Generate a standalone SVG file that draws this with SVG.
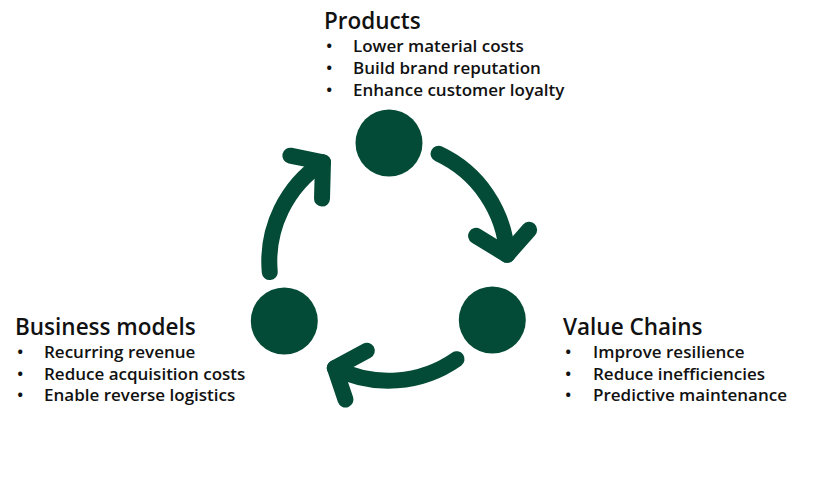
<svg xmlns="http://www.w3.org/2000/svg" xmlns:xlink="http://www.w3.org/1999/xlink" width="821" height="490" viewBox="0 0 821 490">
  <style>
    .node { fill: #034b36; }
    .arrow { fill: none; stroke: #034b36; stroke-width: 16; stroke-linecap: round; stroke-linejoin: round; }
    .title { font-family: "Open Sans", "Noto Sans", sans-serif; font-weight: 600; font-size: 22.5px; fill: #111111; }
    .item { font-family: "Open Sans", "Noto Sans", sans-serif; font-weight: 600; font-size: 17px; fill: #111111; }
  </style>
  <defs>
    <g id="cycleArrow">
      <path d="M 438.6 153.85 A 119 119 0 0 1 507.1 254.85"/>
      <path d="M 476.1 235.85 L 507.1 254.85 L 529.1 229.85"/>
    </g>
  </defs>
  <rect width="821" height="490" fill="#ffffff"/>

  <g id="connectors" class="arrow">
    <use xlink:href="#cycleArrow" href="#cycleArrow"/>
    <use xlink:href="#cycleArrow" href="#cycleArrow" transform="rotate(120 388.3 261.7)"/>
    <use xlink:href="#cycleArrow" href="#cycleArrow" transform="rotate(240 388.3 261.7)"/>
  </g>

  <g id="products">
    <circle class="node" cx="389" cy="143" r="33.5"/>
    <text class="title" x="324" y="29">Products</text>
    <text class="item" x="326" y="52">•</text>
    <text class="item" x="353" y="52">Lower material costs</text>
    <text class="item" x="326" y="74">•</text>
    <text class="item" x="353" y="74">Build brand reputation</text>
    <text class="item" x="326" y="96">•</text>
    <text class="item" x="353" y="96">Enhance customer loyalty</text>
  </g>

  <g id="value-chains">
    <circle class="node" cx="492.3" cy="320" r="33.5"/>
    <text class="title" x="563" y="335">Value Chains</text>
    <text class="item" x="565" y="358">•</text>
    <text class="item" x="593" y="358">Improve resilience</text>
    <text class="item" x="565" y="380">•</text>
    <text class="item" x="593" y="380">Reduce inefficiencies</text>
    <text class="item" x="565" y="401">•</text>
    <text class="item" x="593" y="401">Predictive maintenance</text>
  </g>

  <g id="business-models">
    <circle class="node" cx="284.3" cy="321" r="33.5"/>
    <text class="title" x="15" y="335">Business models</text>
    <text class="item" x="17" y="358">•</text>
    <text class="item" x="44" y="358">Recurring revenue</text>
    <text class="item" x="17" y="380">•</text>
    <text class="item" x="44" y="380">Reduce acquisition costs</text>
    <text class="item" x="17" y="401">•</text>
    <text class="item" x="44" y="401">Enable reverse logistics</text>
  </g>
</svg>
